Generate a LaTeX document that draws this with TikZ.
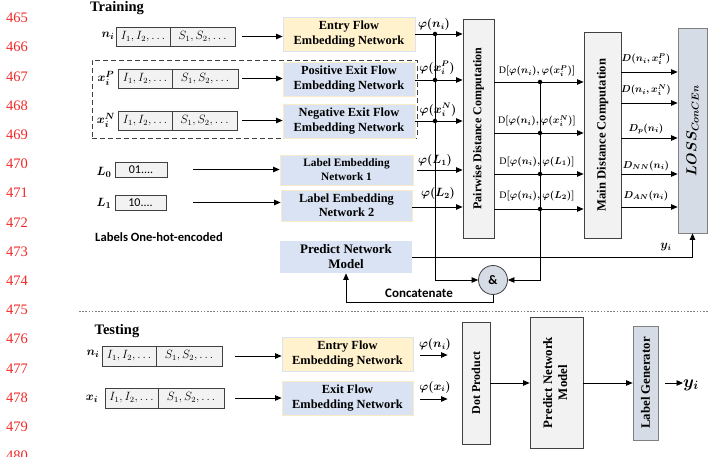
\documentclass[tikz,border=0pt]{standalone}
\usepackage{fontspec}
\setmainfont{Liberation Serif}
\newfontfamily\calib{Carlito}
\usepackage{bm}
\usetikzlibrary{arrows.meta,calc}
\definecolor{lnred}{HTML}{F02828}
\definecolor{yel}{HTML}{FFF2CC}
\definecolor{yelb}{HTML}{F8EBC8}
\definecolor{blub}{HTML}{DCE3F0}
\definecolor{blu}{HTML}{DAE3F3}
\definecolor{gry}{HTML}{F2F2F2}
\definecolor{gblu}{HTML}{D6DCE5}
\definecolor{dk}{HTML}{404040}
\tikzset{
  lnum/.style={text=lnred, font=\fontsize{14.5}{15}\selectfont, inner sep=0pt},
  titl/.style={font=\fontsize{14.5}{15}\selectfont\bfseries, inner sep=0pt},
  lbl/.style={font=\fontsize{12.5}{14}\selectfont\boldmath, inner sep=0pt},
  mlab/.style={font=\fontsize{12}{14}\selectfont\boldmath, inner sep=0pt},
  dlab/.style={font=\fontsize{10}{12}\selectfont\boldmath, inner sep=0pt},
  cell/.style={draw=dk, fill=gry, line width=0.8pt, inner sep=0pt, outer sep=0pt, font=\fontsize{12}{14}\selectfont},
  embed/.style={inner sep=0pt, align=center, line width=0.8pt, font=\fontsize{12.4}{15}\selectfont\bfseries},
  yembed/.style={embed, fill=yel, draw=blub},
  bembed/.style={embed, fill=blu, draw=yelb},
  graybox/.style={draw=dk, fill=gry, line width=0.8pt, inner sep=0pt, font=\fontsize{12}{14}\selectfont\bfseries},
  gbbox/.style={draw=gray, fill=gblu, line width=0.8pt, inner sep=0pt, font=\fontsize{12.8}{14}\selectfont\bfseries},
  arr/.style={-{Triangle[length=6.5pt,width=5.5pt]}, line width=0.8pt},
  ln/.style={line width=0.8pt},
  jdot/.style={circle, fill=black, inner sep=0pt, minimum size=4.5pt},
  sans/.style={font=\calib\bfseries\fontsize{12.6}{14}\selectfont, inner sep=0pt}
}
\begin{document}
\begin{tikzpicture}[x=1pt,y=-1pt]
\useasboundingbox (0,0) rectangle (710,457);
% line numbers
\foreach \n [count=\k from 0] in {465,...,480}
  \node[lnum] (ln\n) at (17,{18+29.2*\k}) {\n};

% ---------------- Training ----------------
\node[titl] (train) at (117,8) {Training};

% dashed group
\node[draw=dk, dash pattern=on 5pt off 3pt, line width=0.9pt, minimum width=325pt, minimum height=78pt, inner sep=0pt] (grp) at (254.5,99) {};

% input rows
\node[lbl] (ni) at (108,36) {$\bm{n_i}$};
\node[cell, minimum width=54pt, minimum height=19pt] (in1a) at (143,36.5) {$I_1,I_2,\ldots$};
\node[cell, minimum width=65pt, minimum height=19pt, anchor=west] (in1b) at (in1a.east) {$S_1,S_2,\ldots$};

\node[lbl] (xp) at (106,78) {$\bm{x_i^P}$};
\node[cell, minimum width=54pt, minimum height=19pt] (in2a) at (145,78.5) {$I_1,I_2,\ldots$};
\node[cell, minimum width=66pt, minimum height=19pt, anchor=west] (in2b) at (in2a.east) {$S_1,S_2,\ldots$};

\node[lbl] (xn) at (106,120) {$\bm{x_i^N}$};
\node[cell, minimum width=54pt, minimum height=19pt] (in3a) at (145,120.5) {$I_1,I_2,\ldots$};
\node[cell, minimum width=65pt, minimum height=19pt, anchor=west] (in3b) at (in3a.east) {$S_1,S_2,\ldots$};

% embedding networks
\node[yembed, minimum width=132pt, minimum height=34pt] (entry) at (349,34) {Entry Flow\\Embedding Network};
\node[bembed, minimum width=132pt, minimum height=34pt] (pos) at (349,79) {Positive Exit Flow\\Embedding Network};
\node[bembed, minimum width=132pt, minimum height=34pt] (neg) at (349,121) {Negative Exit Flow\\Embedding Network};

\draw[arr, shorten <=7pt] (in1b.east) -- (entry.west |- in1b.east);
\draw[arr, shorten <=4pt] (in2b.east) -- (pos.west |- in2b.east);
\draw[arr, shorten <=5pt] (in3b.east) -- (neg.west |- in3b.east);

% labels
\node[lbl] (L0) at (104,172) {$\bm{L_0}$};
\node[cell, minimum width=52pt, minimum height=15pt, font=\calib\fontsize{12}{14}\selectfont] (l0b) at (141,169.5) {01....};
\node[lbl] (L1) at (104,203) {$\bm{L_1}$};
\node[cell, minimum width=51pt, minimum height=15pt, font=\calib\fontsize{12}{14}\selectfont] (l1b) at (140.5,202.5) {10....};
\node[sans] (ohe) at (159,237) {Labels One-hot-encoded};

\node[bembed, minimum width=133pt, minimum height=30pt, font=\fontsize{11.3}{14}\selectfont\bfseries] (leb1) at (346.5,170) {Label Embedding\\Network 1};
\node[bembed, minimum width=131pt, minimum height=31pt, font=\fontsize{12.4}{14}\selectfont\bfseries] (leb2) at (346.5,205.5) {Label Embedding\\Network 2};
\node[embed, fill=blu, minimum width=132pt, minimum height=32pt, font=\fontsize{13}{15}\selectfont\bfseries] (pnm) at (346,257) {Predict Network\\Model};

\draw[arr, shorten <=26pt] (l0b.east) -- (leb1.west |- l0b.east);
\draw[arr, shorten <=27pt] (l1b.east) -- (leb2.west |- l1b.east);

% pairwise distance computation
\node[graybox, minimum width=31pt, minimum height=219pt] (pdc) at (478.5,128.5) {\rotatebox{90}{Pairwise Distance Computation}};
\node[graybox, minimum width=37pt, minimum height=206pt, font=\fontsize{12.6}{14}\selectfont\bfseries] (mdc) at (602.5,135) {\rotatebox{90}{Main Distance Computation}};
\node[gbbox, minimum width=29pt, minimum height=205pt, font=\fontsize{14.5}{15}\selectfont\boldmath] (loss) at (692.5,130.5) {\rotatebox{90}{$\bm{LOSS_{ConCEn}}$}};

% concatenation
\node[circle, draw=dk, fill=gblu, line width=0.8pt, minimum size=29pt, inner sep=0pt, font=\calib\bfseries\fontsize{13}{13}\selectfont] (amp) at (493,280) {\&};

% phi arrows into pairwise
\draw[arr] (entry.east) -- (pdc.west |- entry.east);
\draw[arr] (pos.east |- 0,80) -- (pdc.west |- 0,80);
\draw[arr] (neg.east) -- (pdc.west |- neg.east);
\draw[arr, shorten <=4pt] (leb1.east) -- (pdc.west |- leb1.east);
\draw[arr] (leb2.east |- 0,207) -- (pdc.west |- 0,207);

\node[mlab] (pn) at (434,25) {$\bm{\varphi(n_i)}$};
\node[mlab] (pxp) at (437,68) {$\bm{\varphi(x_i^P)}$};
\node[mlab] (pxn) at (438,110) {$\bm{\varphi(x_i^N)}$};
\node[mlab] (pl1) at (435,161) {$\bm{\varphi(L_1)}$};
\node[mlab] (pl2) at (438,194) {$\bm{\varphi(L_2)}$};

\coordinate (v1) at (435,0);
\draw[arr] (v1 |- entry.east) |- (amp.west);
\node[jdot] (j1) at (v1 |- entry.east) {};
\node[jdot] (j2) at (v1 |- 0,80) {};
\node[jdot] (j3) at (v1 |- neg.east) {};

% pairwise outputs
\draw[arr] (pdc.east |- 0,82) -- (mdc.west |- 0,82);
\draw[arr] (pdc.east |- 0,133) -- (mdc.west |- 0,133);
\draw[arr] (pdc.east |- 0,174) -- (mdc.west |- 0,174);
\draw[arr] (pdc.east |- 0,209) -- (mdc.west |- 0,209);
\coordinate (v2) at (540,0);
\draw[arr] (v2 |- 0,82) |- (amp.east);
\node[jdot] (k1) at (v2 |- 0,82) {};
\node[jdot] (k2) at (v2 |- 0,133) {};
\node[jdot] (k3) at (v2 |- 0,174) {};
\node[jdot] (k4) at (v2 |- 0,209) {};

\node[dlab] (dl1) at (537,71) {$\textrm{D}\bm{[\varphi(n_i),\varphi(x_i^P)]}$};
\node[dlab] (dl2) at (537,121) {$\textrm{D}\bm{[\varphi(n_i),\varphi(x_i^N)]}$};
\node[dlab] (dl3) at (537,162) {$\textrm{D}\bm{[\varphi(n_i),\varphi(L_1)]}$};
\node[dlab] (dl4) at (537,196) {$\textrm{D}\bm{[\varphi(n_i),\varphi(L_2)]}$};

% main outputs
\draw[arr] (mdc.east |- 0,72) -- (loss.west |- 0,72);
\draw[arr] (mdc.east |- 0,103) -- (loss.west |- 0,103);
\draw[arr] (mdc.east |- 0,138) -- (loss.west |- 0,138);
\draw[arr] (mdc.east |- 0,174) -- (loss.west |- 0,174);
\draw[arr] (mdc.east |- 0,207) -- (loss.west |- 0,207);
\node[dlab] (ml1) at (646,59) {$\bm{D(n_i,x_i^P)}$};
\node[dlab] (ml2) at (646,90) {$\bm{D(n_i,x_i^N)}$};
\node[dlab] (ml3) at (646,129) {$\bm{D_p(n_i)}$};
\node[dlab] (ml4) at (646,166) {$\bm{D_{NN}(n_i)}$};
\node[dlab] (ml5) at (646,196) {$\bm{D_{AN}(n_i)}$};

% y_i feedback
\draw[arr] (pnm.east) -| (loss.south);
\node[mlab] (yl) at (666,247) {$\bm{y_i}$};

% concatenate
\coordinate (c1) at (pnm.south |- 0,302);
\draw[arr] (amp.south) |- (c1) -- (pnm.south);
\node[sans, font=\calib\bfseries\fontsize{13}{14}\selectfont] (cat) at (419,293) {Concatenate};

% ---------------- Testing ----------------
\draw[gray, line width=0.8pt, dash pattern=on 1.6pt off 1.6pt] (79,311) -- (708,311);
\node[titl] (test) at (117,331) {Testing};

\node[lbl] (tni) at (93,354) {$\bm{n_i}$};
\node[cell, minimum width=54pt, minimum height=20pt] (t1a) at (129,356) {$I_1,I_2,\ldots$};
\node[cell, minimum width=66pt, minimum height=20pt, anchor=west] (t1b) at (t1a.east) {$S_1,S_2,\ldots$};
\node[lbl] (txi) at (92,399) {$\bm{x_i}$};
\node[cell, minimum width=53pt, minimum height=20pt] (t2a) at (131.5,398) {$I_1,I_2,\ldots$};
\node[cell, minimum width=66pt, minimum height=20pt, anchor=west] (t2b) at (t2a.east) {$S_1,S_2,\ldots$};

\node[yembed, minimum width=131pt, minimum height=34pt] (tentry) at (347.5,354) {Entry Flow\\Embedding Network};
\node[bembed, minimum width=131pt, minimum height=34pt] (texit) at (347.5,398) {Exit Flow\\Embedding Network};

\draw[arr, shorten <=13pt] (t1b.east) -- (tentry.west |- t1b.east);
\draw[arr, shorten <=11pt] (t2b.east) -- (texit.west |- t2b.east);

\node[graybox, minimum width=28pt, minimum height=122pt] (dot) at (476,383) {\rotatebox{90}{Dot Product}};
\node[graybox, minimum width=53pt, minimum height=131pt, font=\fontsize{12.9}{15}\selectfont\bfseries] (tpnm) at (556.5,382.5) {\rotatebox{90}{\begin{tabular}{@{}c@{}}Predict Network\\Model\end{tabular}}};
\node[gbbox, minimum width=25pt, minimum height=114pt] (lgen) at (645.5,383) {\rotatebox{90}{Label Generator}};

\draw[arr, shorten <=7pt, shorten >=14pt] (tentry.east |- 0,355) -- (dot.west |- 0,355);
\draw[arr, shorten <=7pt, shorten >=14pt] (texit.east |- 0,399) -- (dot.west |- 0,399);
\node[mlab] (tpn) at (435,345) {$\bm{\varphi(n_i)}$};
\node[mlab] (tpx) at (435,387) {$\bm{\varphi(x_i)}$};

\draw[arr] (dot.east |- 0,383) -- (tpnm.west |- 0,383);
\draw[arr] (tpnm.east |- 0,383) -- (lgen.west |- 0,383);
\node[font=\fontsize{17}{18}\selectfont\boldmath, inner sep=0pt, anchor=west] (yout) at (683,385) {$\bm{y_i}$};
\draw[arr, shorten <=7pt] (lgen.east |- 0,383) -- (yout.west |- 0,383);
\end{tikzpicture}
\end{document}
